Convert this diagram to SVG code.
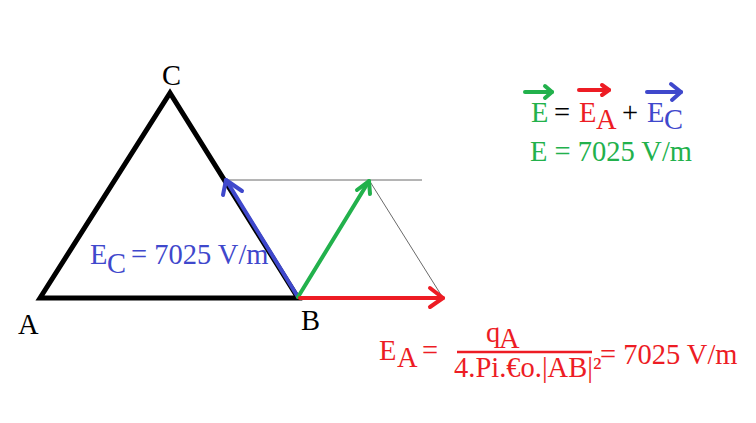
<svg xmlns="http://www.w3.org/2000/svg" width="756" height="423" viewBox="0 0 756 423">
<style>
text{font-family:"Liberation Serif","Times New Roman",serif;font-size:28.5px}
.g{fill:#22b14c}.r{fill:#ed1c24}.b{fill:#3f48cc}.k{fill:#000}
.sg{stroke:#22b14c}.sr{stroke:#ed1c24}.sb{stroke:#3f48cc}
.vec{fill:none;stroke-width:4;stroke-linecap:round;stroke-linejoin:round}
.thin{fill:none;stroke:#6a6a6a;stroke-width:1}
</style>
<rect width="756" height="423" fill="#fff"/>
<g id="triangle">
<polygon points="40,298 170,93 298,298" fill="none" stroke="#000" stroke-width="5" stroke-linejoin="miter"/>
<text x="162" y="85" font-size="25" class="k">C</text>
<text x="18" y="334" font-size="25" class="k">A</text>
<text x="301" y="330" font-size="25" class="k">B</text>
</g>
<g id="connectors">
<line class="thin" x1="226" y1="180" x2="422" y2="180"/>
<line class="thin" x1="369" y1="180" x2="443" y2="298"/>
<g id="vecEC" class="vec sb">
<line x1="298" y1="297" x2="226" y2="180"/>
<polyline points="223,195 226,180 242,191"/>
</g>
<g id="vecE" class="vec sg">
<line x1="298" y1="297" x2="369" y2="181"/>
<polyline points="357,190 369,181 370,194"/>
</g>
<g id="vecEA" class="vec sr">
<line x1="300" y1="298" x2="443" y2="298"/>
<polyline points="430,288 443,298 430,307"/>
</g>
</g>
<g id="label-EC">
<text x="90" y="264" class="b">E</text>
<text x="107" y="273" class="b">C</text>
<text x="131" y="264" class="b">= 7025 V/m</text>
</g>
<g id="sum">
<g class="vec" stroke-width="3.5">
<line class="sg" x1="525" y1="92" x2="552" y2="92"/>
<polyline class="sg" points="545,86 552,92 545,98"/>
<line class="sr" x1="579" y1="90" x2="609" y2="90"/>
<polyline class="sr" points="602,85 609,90 602,95"/>
<line class="sb" x1="647" y1="92" x2="681" y2="92"/>
<polyline class="sb" points="671,84 681,92 672,100"/>
</g>
<text x="531" y="122" class="g">E</text>
<text x="554" y="122" class="k">=</text>
<text x="579" y="122" class="r">E</text>
<text x="596" y="129" class="r">A</text>
<text x="622" y="122" class="k">+</text>
<text x="647" y="122" class="b">E</text>
<text x="664" y="129" class="b">C</text>
<text x="530" y="161" class="g">E = 7025 V/m</text>
</g>
<g id="formula-EA">
<text x="379" y="360" class="r">E</text>
<text x="397" y="367" class="r">A</text>
<text x="422" y="360" class="r">=</text>
<text x="486" y="342" class="r">q</text>
<text x="499" y="348" class="r">A</text>
<line x1="457" y1="352" x2="592" y2="352" stroke="#ed1c24" stroke-width="2.5"/>
<text x="454" y="377" class="r">4.Pi.€o.|AB|²</text>
<text x="600" y="364" class="r">= 7025 V/m</text>
</g>
</svg>
